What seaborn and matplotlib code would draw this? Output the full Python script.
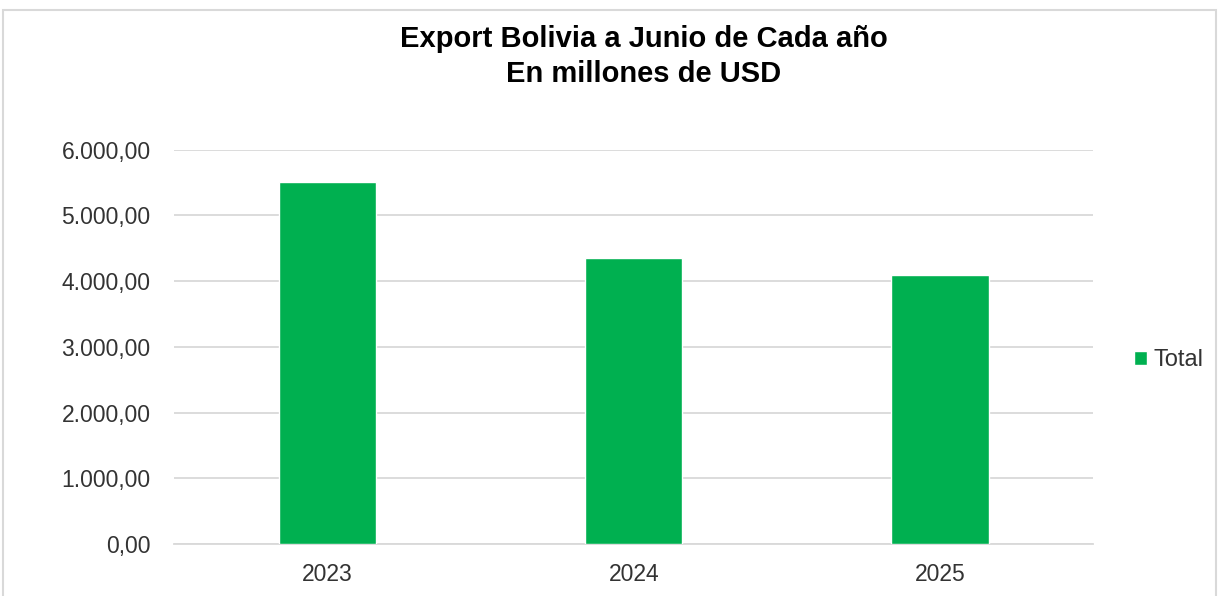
import pandas as pd
import seaborn as sns
import matplotlib.pyplot as plt
from matplotlib.patches import Rectangle
from matplotlib.ticker import FuncFormatter

years = ["2023", "2024", "2025"]
total = [5510, 4345, 4096]

df = pd.DataFrame({"Año": years, "Total": total})

sns.set_style("white")
plt.rcParams["font.family"] = ["Liberation Sans", "DejaVu Sans"]

fig = plt.figure(figsize=(12.19, 5.96), dpi=100)
ax = fig.add_axes([0.143, 0.0872, 0.7537, 0.6618])

sns.barplot(data=df, x="Año", y="Total", color="#00B050", width=0.318,
            saturation=1, ax=ax, label="Total", zorder=3)

ax.set_ylim(0, 6000)
ax.set_xlim(-0.5, 2.5)
ax.set_yticks(range(0, 6001, 1000))
ax.yaxis.set_major_formatter(FuncFormatter(
    lambda v, p: f"{v:,.2f}".replace(",", "X").replace(".", ",").replace("X", ".")))
ax.grid(axis="y", color="#D9D9D9", linewidth=1.3, zorder=0)
ax.set_axisbelow(True)
for s in ["top", "right", "left"]:
    ax.spines[s].set_visible(False)
ax.spines["bottom"].set_color("#D9D9D9")
ax.spines["bottom"].set_linewidth(1.3)
ax.tick_params(axis="both", length=0, labelsize=16.5, colors="#333333")
ax.tick_params(axis="y", pad=17)
ax.tick_params(axis="x", pad=14)
ax.set_xlabel("")
ax.set_ylabel("")

fig.text(0.528, 0.958, "Export Bolivia a Junio de Cada año\nEn millones de USD",
         ha="center", va="top", fontsize=21, fontweight="bold",
         linespacing=1.3, color="black")

ax.legend(loc="center left", bbox_to_anchor=(1.021, 0.466), frameon=False,
          fontsize=17, handlelength=0.55, handleheight=0.55, handletextpad=0.3,
          labelcolor="#333333")

fig.patches.append(Rectangle((3 / 1219, -0.01), 1213 / 1219, 1 - 10 / 596 + 0.01,
                             transform=fig.transFigure, fill=False,
                             edgecolor="#D9D9D9", linewidth=1.5))

fig.savefig("out.png", dpi=100)
